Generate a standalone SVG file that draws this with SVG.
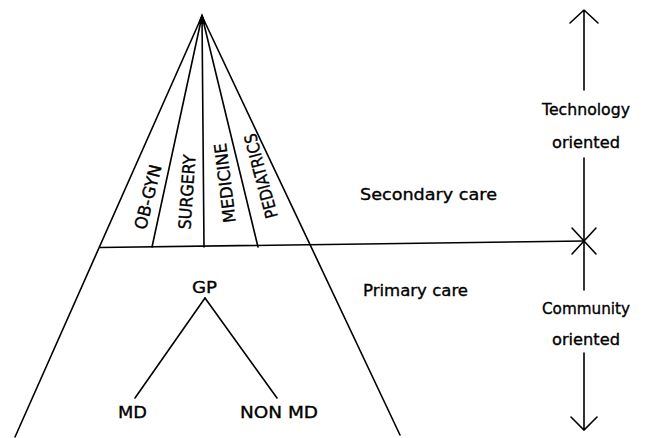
<svg xmlns="http://www.w3.org/2000/svg" width="651" height="438" viewBox="0 0 651 438">
<style>
.l{stroke:#000;stroke-width:1.6;fill:none;stroke-linecap:round}
.t{font-family:"DejaVu Sans","Liberation Sans",sans-serif;font-size:16px;fill:#000;stroke:#000;stroke-width:0.35}
.r{font-size:17px}
.m{text-anchor:middle}
</style>
<rect width="651" height="438" fill="#fff"/>
<g id="connectors">
<path class="l" d="M202,16 L15,437"/>
<path class="l" d="M202,16 L400,435"/>
<path class="l" d="M202,16 L152,247"/>
<path class="l" d="M202,16 L204,247"/>
<path class="l" d="M202,16 L258,247"/>
<path d="M202,13 L198,24 L206,24 Z" fill="#000"/>
<path class="l" d="M100,247.5 L584,241"/>
<path class="l" d="M205,298 L135,398"/>
<path class="l" d="M205,298 L277,398"/>
<path class="l" d="M584,10 L584,90 M570,23 L584,10 L598,23"/>
<path class="l" d="M584,158 L584,290"/>
<path class="l" d="M572,228 L596,254 M572,254 L596,228"/>
<path class="l" d="M584,353 L584,430 M571,417 L584,430 L597,417"/>
</g>
<g id="obgyn"><text class="t r m" transform="translate(153.8,198.5) rotate(-76)" textLength="66" lengthAdjust="spacingAndGlyphs">OB-GYN</text></g>
<g id="surgery"><text class="t r m" transform="translate(193,192.4) rotate(-86)" textLength="75" lengthAdjust="spacingAndGlyphs">SURGERY</text></g>
<g id="medicine"><text class="t r m" transform="translate(231,182.3) rotate(-97)" textLength="80" lengthAdjust="spacingAndGlyphs">MEDICINE</text></g>
<g id="pediatrics"><text class="t r m" transform="translate(266.8,174.5) rotate(-105)" textLength="87" lengthAdjust="spacingAndGlyphs">PEDIATRICS</text></g>
<g id="gp"><text class="t" x="192" y="293" textLength="25" lengthAdjust="spacingAndGlyphs">GP</text></g>
<g id="md"><text class="t" x="118" y="418" textLength="29" lengthAdjust="spacingAndGlyphs">MD</text></g>
<g id="nonmd"><text class="t" x="240" y="418" textLength="78" lengthAdjust="spacingAndGlyphs">NON MD</text></g>
<g id="secondary"><text class="t" x="360" y="200" textLength="137" lengthAdjust="spacingAndGlyphs">Secondary care</text></g>
<g id="primary"><text class="t" x="363" y="296" textLength="105" lengthAdjust="spacingAndGlyphs">Primary care</text></g>
<g id="technology"><text class="t" x="542" y="115" textLength="88" lengthAdjust="spacingAndGlyphs">Technology</text><text class="t" x="552" y="148" textLength="68" lengthAdjust="spacingAndGlyphs">oriented</text></g>
<g id="community"><text class="t" x="542" y="314" textLength="88" lengthAdjust="spacingAndGlyphs">Community</text><text class="t" x="552" y="345" textLength="68" lengthAdjust="spacingAndGlyphs">oriented</text></g>
</svg>
